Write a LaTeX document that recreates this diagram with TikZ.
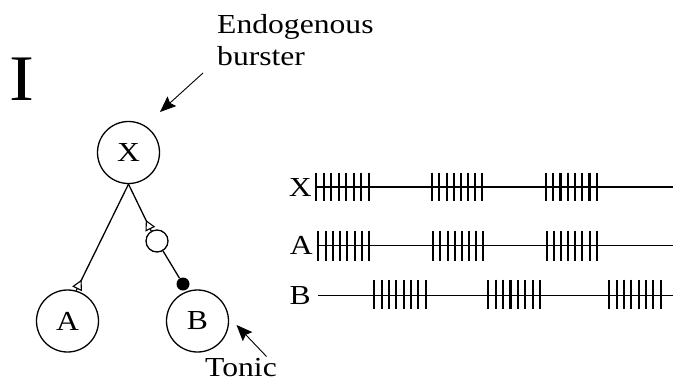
\documentclass[tikz,border=0pt]{standalone}
\usepackage{fontspec}
\setmainfont[FakeStretch=1.15]{Liberation Serif}
\usetikzlibrary{arrows.meta,calc}
\begin{document}
\begin{tikzpicture}[x=1pt,y=-1pt,
  lbl/.style={font=\fontsize{27.5}{32}\selectfont, inner sep=0pt},
  cell/.style={circle, draw, line width=1.3pt, minimum size=62pt, inner sep=0pt,
               font=\fontsize{27.5}{32}\selectfont},
  relay/.style={circle, draw, line width=1.3pt, minimum size=22pt, inner sep=0pt},
  synknob/.style={circle, fill=black, minimum size=13pt, inner sep=0pt},
  link/.style={line width=1.3pt},
  exc/.style={draw, fill=white, line width=1.1pt, line join=miter},
  pointer/.style={line width=0.9pt, -{Stealth[length=16pt,width=13pt,inset=2.5pt]}},
  trace/.style={line width=1.7pt},
  spike/.style={line width=2.1pt}
]
\useasboundingbox (0,0) rectangle (675,383);

% panel letter and annotations
\node[font=\fontsize{65}{70}\selectfont, anchor=base west, inner sep=0pt] (panel) at (9,100) {I};
\node[lbl, anchor=base west] (endo) at (217,33) {Endogenous};
\node[lbl, anchor=base west] (burst) at (217,65) {burster};
\node[lbl, anchor=base west] (tonic) at (205,376) {Tonic};

% circuit
\node[cell] (X) at (128.5,152.5) {X};
\node[cell] (A) at (67.5,321) {A};
\node[cell] (B) at (197.5,321) {B};
\node[relay] (m) at (157,241) {};
\node[synknob] (d) at (183,284) {};

\draw[link] (X.south) -- (A.74);
\draw[exc] ($(A.74)!11pt!(X.south)$) -- ($($(A.74)!2.5pt!(X.south)$)!4.5pt!90:(X.south)$)
           -- ($($(A.74)!2.5pt!(X.south)$)!4.5pt!-90:(X.south)$) -- cycle;

\draw[link] (X.south) -- (m.120);
\draw[exc] ($(m.120)!11pt!(X.south)$) -- ($($(m.120)!2.5pt!(X.south)$)!4.5pt!90:(X.south)$)
           -- ($($(m.120)!2.5pt!(X.south)$)!4.5pt!-90:(X.south)$) -- cycle;

\draw[link] (m) -- (d);

% pointers
\coordinate (e1) at (203,73);
\coordinate (e2) at (160,112);
\draw[pointer] (e1) -- (e2);
\coordinate (t1) at (266.5,356.5);
\coordinate (t2) at (236.5,325);
\draw[pointer] (t1) -- (t2);

% spike trains
\node[lbl, anchor=east] (lx) at (312,187) {X};
\node[lbl, anchor=east] (la) at (313,245.5) {A};
\node[lbl, anchor=east] (lb) at (311,295.5) {B};

\draw[trace] (316,187) -- (673,187);
\draw[trace] (318,245.5) -- (673,245.5);
\draw[trace] (318,295.5) -- (673,295.5);

\foreach \s/\e in {316/369, 432.3/482.3, 546/596.7}
  \foreach \k in {0,...,7}
    \draw[spike] ({\s+\k*(\e-\s)/7},172.5) -- ({\s+\k*(\e-\s)/7},200.5);
\foreach \s/\e in {318.3/369.3, 433.3/483.3, 546.7/596.7}
  \foreach \k in {0,...,7}
    \draw[spike] ({\s+\k*(\e-\s)/7},230.5) -- ({\s+\k*(\e-\s)/7},260.5);
\foreach \s/\e in {374.3/425.7, 488.3/540, 609.3/660.7}
  \foreach \k in {0,...,7}
    \draw[spike] ({\s+\k*(\e-\s)/7},279.5) -- ({\s+\k*(\e-\s)/7},309);
\end{tikzpicture}
\end{document}
